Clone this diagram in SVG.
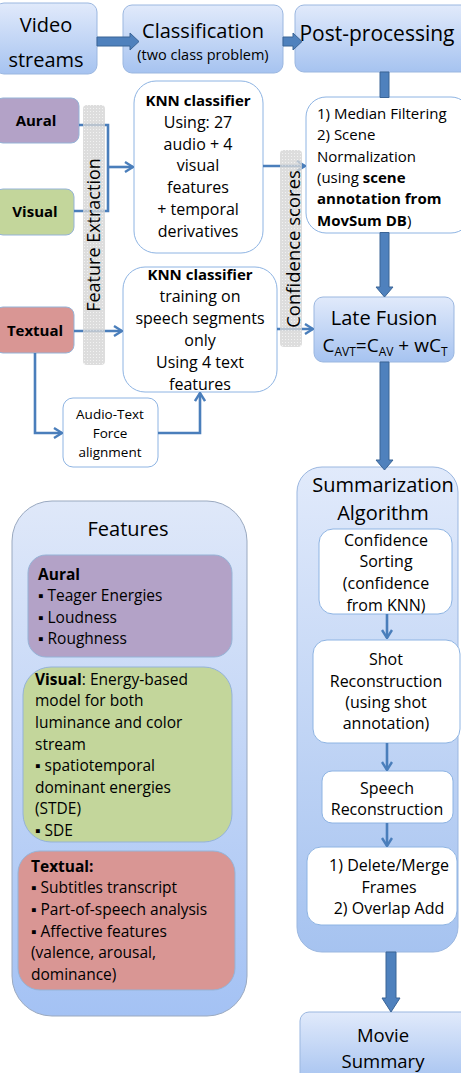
<svg xmlns="http://www.w3.org/2000/svg" width="461" height="1073" viewBox="0 0 461 1073">
<defs>
<linearGradient id="gb" x1="0" y1="0" x2="0" y2="1">
<stop offset="0" stop-color="#e1eafb"/>
<stop offset="1" stop-color="#a6c3f0"/>
</linearGradient>
<linearGradient id="gf" x1="0" y1="0" x2="0" y2="1">
<stop offset="0" stop-color="#dfe8f9"/>
<stop offset="1" stop-color="#a4c2f4"/>
</linearGradient>
<pattern id="dots" width="3" height="3" patternUnits="userSpaceOnUse">
<rect width="3" height="3" fill="#d4d4d4"/>
<rect width="1" height="1" fill="#efefef"/>
</pattern>
<marker id="ah" viewBox="0 0 10 12" refX="9" refY="6" markerWidth="10" markerHeight="12" markerUnits="userSpaceOnUse" orient="auto">
<path d="M1,1 L9,6 L1,11" fill="none" stroke="#4a7ebb" stroke-width="2.4"/>
</marker>
<style>
.t{font-family:'Open Sans','Liberation Sans',sans-serif;fill:#000}
.c{text-anchor:middle}
.b{font-weight:bold}
.big{font-size:20px}
.m{font-size:16px}
.s{font-size:15.5px}
.box{fill:url(#gb);stroke:#9bb7e0;stroke-width:1}
.wb{fill:#fff;stroke:#8eb4e3;stroke-width:1}
.th{fill:#4f81bd;stroke:#3a6496;stroke-width:1}
.ln{fill:none;stroke:#4a7ebb;stroke-width:2.6}
.band{fill:url(#dots);opacity:0.8}
</style>
</defs>

<g id="video-streams">
<rect class="box" x="-5" y="3" width="102" height="71" rx="9"/>
<text class="t c big" x="46" y="32">Video</text>
<text class="t c big" x="46" y="67">streams</text>
</g>
<g id="classification">
<rect class="box" x="123" y="5" width="160" height="68" rx="9"/>
<text class="t c big" x="203" y="38">Classification</text>
<text class="t c" font-size="14.5" x="203" y="60">(two class problem)</text>
</g>
<g id="post-processing">
<rect class="box" x="295" y="5" width="175" height="67" rx="9"/>
<text class="t c" font-size="21" x="377" y="41">Post-processing</text>
</g>

<g id="aural">
<rect x="-5" y="98" width="84" height="45" rx="8" fill="#b3a2c7" stroke="#95b3d7"/>
<text class="t c b" font-size="15" x="36" y="126">Aural</text>
</g>
<g id="visual">
<rect x="-5" y="189" width="79" height="46" rx="8" fill="#c3d69b" stroke="#95b3d7"/>
<text class="t c b" font-size="15" x="35" y="217">Visual</text>
</g>
<g id="textual">
<rect x="-5" y="307" width="79" height="46" rx="8" fill="#d99694" stroke="#95b3d7"/>
<text class="t c b" font-size="15" x="35" y="336">Textual</text>
</g>

<g id="knn-av">
<rect class="wb" x="134" y="81" width="129" height="172" rx="22"/>
<text class="t c b" font-size="15" x="198" y="106">KNN classifier</text>
<text class="t c m" x="198" y="128">Using: 27</text>
<text class="t c m" x="198" y="150">audio + 4</text>
<text class="t c m" x="198" y="171">visual</text>
<text class="t c m" x="198" y="193">features</text>
<text class="t c m" x="198" y="215">+ temporal</text>
<text class="t c m" x="198" y="237">derivatives</text>
</g>

<g id="knn-text">
<rect class="wb" x="123" y="267" width="154" height="125" rx="22"/>
<text class="t c b" font-size="15" x="200" y="280">KNN classifier</text>
<text class="t c m" x="200" y="302">training on</text>
<text class="t c m" x="200" y="324">speech segments</text>
<text class="t c m" x="200" y="346">only</text>
<text class="t c m" x="200" y="368">Using 4 text</text>
<text class="t c m" x="200" y="390">features</text>
</g>

<g id="audio-text-alignment">
<rect class="wb" x="63" y="398" width="95" height="69" rx="10"/>
<text class="t c" font-size="13.5" x="110" y="419">Audio-Text</text>
<text class="t c" font-size="13.5" x="110" y="438">Force</text>
<text class="t c" font-size="13.5" x="110" y="457">alignment</text>
</g>

<g id="median-filtering">
<rect class="wb" x="306" y="97" width="165" height="136" rx="20"/>
<text class="t" font-size="15" x="317" y="119">1) Median Filtering</text>
<text class="t" font-size="15" x="317" y="140">2) Scene</text>
<text class="t" font-size="15" x="317" y="162">Normalization</text>
<text class="t" font-size="15" x="317" y="183">(using <tspan class="b">scene</tspan></text>
<text class="t b" font-size="15" x="317" y="204">annotation from</text>
<text class="t" font-size="15" x="317" y="226"><tspan class="b">MovSum DB</tspan>)</text>
</g>

<g id="late-fusion">
<rect class="box" x="314" y="297" width="140" height="65" rx="9"/>
<text class="t c big" x="384" y="325">Late Fusion</text>
<text class="t c" font-size="19" x="385" y="352">C<tspan font-size="12" dy="4">AVT</tspan><tspan dy="-4">=C</tspan><tspan font-size="12" dy="4">AV</tspan><tspan dy="-4"> + wC</tspan><tspan font-size="12" dy="4">T</tspan></text>
</g>

<g id="features">
<rect x="12" y="501" width="235" height="515" rx="40" fill="url(#gf)" stroke="#9aa9c0"/>
<text class="t c big" x="128" y="536">Features</text>
</g>
<g id="features-aural">
<rect x="28" y="555" width="204" height="102" rx="18" fill="#b3a2c7" stroke="#95b3d7"/>
<text class="t s b" x="38" y="580">Aural</text>
<text class="t s" x="38" y="601">▪ Teager Energies</text>
<text class="t s" x="38" y="623">▪ Loudness</text>
<text class="t s" x="38" y="644">▪ Roughness</text>
</g>
<g id="features-visual">
<rect x="23" y="667" width="209" height="175" rx="28" fill="#c3d69b" stroke="#95b3d7"/>
<text class="t s" x="35" y="685"><tspan class="b">Visual</tspan>: Energy-based</text>
<text class="t s" x="35" y="706">model for both</text>
<text class="t s" x="35" y="728">luminance and color</text>
<text class="t s" x="35" y="750">stream</text>
<text class="t s" x="35" y="771">▪ spatiotemporal</text>
<text class="t s" x="35" y="793">dominant energies</text>
<text class="t s" x="35" y="814">(STDE)</text>
<text class="t s" x="35" y="836">▪ SDE</text>
</g>
<g id="features-textual">
<rect x="18" y="851" width="217" height="139" rx="22" fill="#d99694" stroke="#95b3d7"/>
<text class="t s b" x="31" y="872">Textual:</text>
<text class="t s" x="31" y="893">▪ Subtitles transcript</text>
<text class="t s" x="31" y="915">▪ Part-of-speech analysis</text>
<text class="t s" x="31" y="937">▪ Affective features</text>
<text class="t s" x="31" y="958">(valence, arousal,</text>
<text class="t s" x="31" y="980">dominance)</text>
</g>

<g id="summarization">
<rect class="box" x="297" y="467" width="161" height="485" rx="25"/>
<text class="t c big" x="383" y="492">Summarization</text>
<text class="t c big" x="383" y="520">Algorithm</text>
</g>
<g id="confidence-sorting">
<rect class="wb" x="319" y="529" width="133" height="85" rx="14"/>
<text class="t c m" x="386" y="546">Confidence</text>
<text class="t c m" x="386" y="567">Sorting</text>
<text class="t c m" x="386" y="589">(confidence</text>
<text class="t c m" x="386" y="611">from KNN)</text>
</g>
<g id="shot-reconstruction">
<rect class="wb" x="313" y="640" width="147" height="103" rx="14"/>
<text class="t c m" x="386" y="665">Shot</text>
<text class="t c m" x="386" y="687">Reconstruction</text>
<text class="t c m" x="386" y="708">(using shot</text>
<text class="t c m" x="386" y="729">annotation)</text>
</g>
<g id="speech-reconstruction">
<rect class="wb" x="322" y="771" width="131" height="52" rx="10"/>
<text class="t c m" x="387" y="794">Speech</text>
<text class="t c m" x="387" y="815">Reconstruction</text>
</g>
<g id="delete-merge">
<rect class="wb" x="307" y="847" width="150" height="78" rx="14"/>
<text class="t c m" x="389" y="871">1) Delete/Merge</text>
<text class="t c m" x="389" y="893">Frames</text>
<text class="t c m" x="389" y="914">2) Overlap Add</text>
</g>

<g id="movie-summary">
<rect class="box" x="300" y="1012" width="170" height="70" rx="9"/>
<text class="t c" font-size="18.5" x="383" y="1042">Movie</text>
<text class="t c" font-size="18.5" x="383" y="1068">Summary</text>
</g>

<g id="connectors">
<polygon class="th" points="97,37 130,37 130,33 139,41.5 130,50 130,46 97,46"/>
<polygon class="th" points="283,37 293,37 293,33 302,41.5 293,50 293,46 283,46"/>
<polygon class="th" points="380,72 389,72 389,97.5 380,97.5"/>
<polygon class="th" points="380,232.5 389,232.5 389,287 393,287 384.5,297 376,287 380,287"/>
<polygon class="th" points="380,362 389,362 389,460 393,460 384.5,470 376,460 380,460"/>
<polygon class="th" points="386,952 396,952 396,998 400,998 391,1012 382,998 386,998"/>
<path class="ln" d="M79,125 H108 V211 H74"/>
<path class="ln" d="M108,167 H133" marker-end="url(#ah)"/>
<path class="ln" d="M74,331 H122" marker-end="url(#ah)"/>
<path class="ln" d="M35,353 V433 H62" marker-end="url(#ah)"/>
<path class="ln" d="M158,433 H200 V393" marker-end="url(#ah)"/>
<path class="ln" d="M263,166 H305" marker-end="url(#ah)"/>
<path class="ln" d="M277,329 H313" marker-end="url(#ah)"/>
<path class="ln" d="M387,614 V638" marker-end="url(#ah)"/>
<path class="ln" d="M387,743 V770" marker-end="url(#ah)"/>
<path class="ln" d="M387,823 V846" marker-end="url(#ah)"/>
</g>

<g id="feature-extraction-band">
<rect class="band" x="83" y="105" width="22" height="260" rx="4"/>
<text class="t c" font-size="18" transform="translate(100,235) rotate(-90)">Feature Extraction</text>
</g>
<g id="confidence-scores-band">
<rect class="band" x="280" y="150" width="22" height="197" rx="4"/>
<text class="t c" font-size="18.5" transform="translate(300,249) rotate(-90)">Confidence scores</text>
</g>
</svg>
